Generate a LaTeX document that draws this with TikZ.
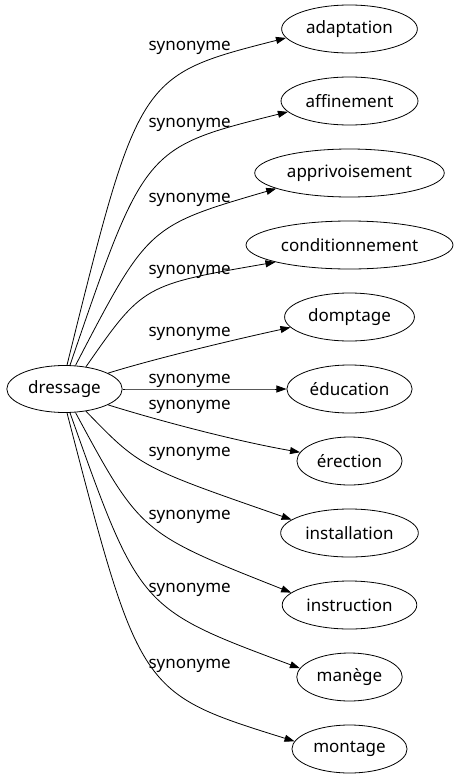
\documentclass[tikz,border=0pt]{standalone}
\usepackage{fontspec}
\setmainfont{Noto Sans}
\usetikzlibrary{shapes.geometric, arrows.meta}

\begin{document}
\begin{tikzpicture}[x=1pt, y=-1pt, font=\fontsize{17}{20}\selectfont,
	word/.style={draw, ellipse, line width=0.8pt, inner xsep=4.5pt, minimum height=48pt},
	syn/.style={inner sep=0pt},
	link/.style={-{Triangle[length=10pt, width=7pt]}, line width=0.8pt}]
	\useasboundingbox (0,0) rectangle (456,779);
	\node[word, minimum height=47pt] (dressage) at (64.5,389) {dressage};
	\foreach \n/\w [count=\i] in {adaptation/adaptation, affinement/affinement, apprivoisement/apprivoisement, conditionnement/conditionnement, domptage/domptage, education/éducation, erection/érection, installation/installation, instruction/instruction, manege/manège, montage/montage}
	\node[word] (\n) at (349.5,{29+72*(\i-1)}) {\w};
	% labels
	\foreach \y [count=\i] in {48.3, 125, 200, 272, 333.5, 380.5, 407, 454, 516.5, 590, 665.5}
	\node[syn] (syn\i) at (189.7,\y) {synonyme};
	% edges
	\foreach \n/\s/\t/\a/\b in {adaptation/84/188/{138.7,75.5}/{138.7,75.5}, affinement/77/190/{144.4,147.6}/{144.4,147.6}, apprivoisement/65/192/{148,226}/{148,226}, conditionnement/46/193/{143,285}/{143,285}, domptage/20/190/{150,360}/{228,341}, education/0/180/{170,389}/{240,389}, erection/340/170/{150,418}/{230,440}, installation/314/167/{140,467}/{140,467}, instruction/295/168/{140.5,533}/{140.5,533}, manege/283/170/{139.5,608.6}/{139.5,608.6}, montage/276/172/{139.7,693}/{139.7,693}}
	\draw[link] (dressage.\s) .. controls (\a) and (\b) .. (\n.\t);
\end{tikzpicture}
\end{document}
